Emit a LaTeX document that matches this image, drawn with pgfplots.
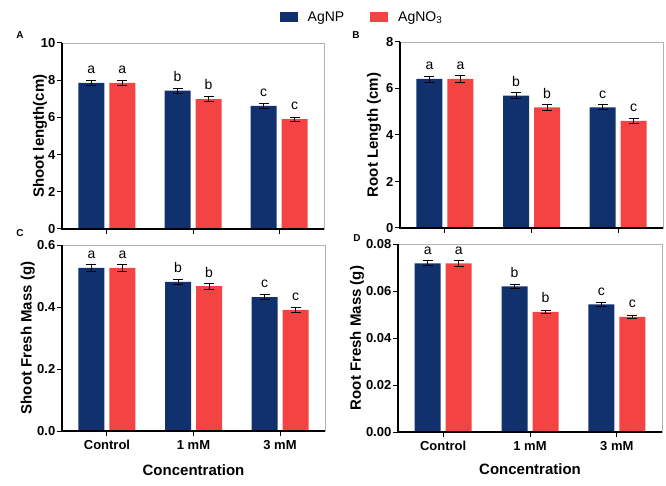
\documentclass[border=0pt]{standalone}
\usepackage{pgfplots}
\pgfplotsset{compat=1.18}
\usepackage{pgfplotstable}
\usepackage{fontspec}
\setmainfont{Liberation Sans}
\definecolor{npblue}{RGB}{17,48,110}
\definecolor{nored}{RGB}{244,67,67}

% x y err lbl
\pgfplotstableread{
x y err lbl
0 7.85 0.13 a
1 7.44 0.13 b
2 6.62 0.11 c
}\Anp
\pgfplotstableread{
x y err lbl
0 7.85 0.14 a
1 6.98 0.13 b
2 5.91 0.11 c
}\Ano
\pgfplotstableread{
x y err lbl
0 6.41 0.13 a
1 5.69 0.13 b
2 5.19 0.11 c
}\Bnp
\pgfplotstableread{
x y err lbl
0 6.41 0.14 a
1 5.19 0.12 b
2 4.61 0.10 c
}\Bno
\pgfplotstableread{
x y err lbl
0 0.526 0.010 a
1 0.481 0.009 b
2 0.432 0.008 c
}\Cnp
\pgfplotstableread{
x y err lbl
0 0.526 0.010 a
1 0.467 0.009 b
2 0.391 0.007 c
}\Cno
\pgfplotstableread{
x y err lbl
0 0.0718 0.0011 a
1 0.0620 0.0009 b
2 0.0543 0.0008 c
}\Dnp
\pgfplotstableread{
x y err lbl
0 0.0718 0.0012 a
1 0.0511 0.0007 b
2 0.0490 0.0007 c
}\Dno

\pgfplotsset{
  panel/.style={
    scale only axis,
    ybar,
    bar width=26pt,
    xmin=-0.52, xmax=2.52,
    ymin=0,
    xtick={0,1,2},
    xtick pos=left, ytick pos=left,
    tick align=outside,
    major tick length=5pt,
    major tick style={black, line width=1pt},
    axis line style={draw=gray!60, line width=0.6pt},
    clip=false,
    /pgf/number format/assume math mode=true,
    ticklabel style={font=\bfseries\fontsize{13}{15}\selectfont},
    yticklabel style={inner sep=1.5pt},
    xticklabel style={yshift=-1pt},
    label style={font=\bfseries\fontsize{15}{17}\selectfont},
    nodes near coords,
    point meta=explicit symbolic,
    nodes near coords style={anchor=south, yshift=5.5pt, font=\fontsize{14}{16}\selectfont, text=black},
    scaled y ticks=false,
  },
  errs/.style={
    error bars/y dir=both, error bars/y explicit,
    error bars/error bar style={black, line width=0.8pt},
    error bars/error mark options={rotate=90, black, mark size=5pt, line width=0.8pt}},
  np/.style={fill=npblue, draw=none, bar shift=-15.5pt, errs},
  no/.style={fill=nored, draw=none, bar shift=15.5pt, errs},
}
\newcommand{\blackaxes}{\draw[black, line width=1.3pt] (rel axis cs:0,1) -- (rel axis cs:0,0) -- (rel axis cs:1,0);}

\begin{document}
\begin{tikzpicture}
\path[use as bounding box] (0,0) rectangle (666pt,485pt);

% Panel A
\begin{axis}[panel, at={(62pt,256pt)}, anchor=south west, width=262pt, height=186pt,
  ymax=10, ytick={0,2,...,10}, xticklabels={},
  ylabel={Shoot length(cm)},
  ylabel style={at={(axis description cs:-0.084,0.5)}, anchor=center},
  legend style={at={(axis description cs:1.145,1.14)}, anchor=center, draw=none, fill=none,
    legend columns=2, font=\fontsize{14}{16}\selectfont,
    /tikz/every even column/.append style={column sep=24pt}},
]
\addplot[np, legend image code/.code={\fill[npblue] (0pt,-5pt) rectangle (18pt,5pt); \path (26pt,0pt);}] table[x=x, y=y, y error=err, meta=lbl] {\Anp};
\addlegendentry{AgNP}
\addplot[no, legend image code/.code={\fill[nored] (0pt,-5pt) rectangle (18pt,5pt); \path (26pt,0pt);}] table[x=x, y=y, y error=err, meta=lbl] {\Ano};
\addlegendentry{AgNO\textsubscript{3}}
\blackaxes
\end{axis}

% Panel B
\begin{axis}[panel, at={(400pt,257pt)}, anchor=south west, width=263pt, height=186pt,
  ymax=8, ytick={0,2,...,8}, xticklabels={},
  ylabel={Root Length (cm)},
  ylabel style={at={(axis description cs:-0.099,0.5)}, anchor=center},
]
\addplot[np] table[x=x, y=y, y error=err, meta=lbl] {\Bnp};
\addplot[no] table[x=x, y=y, y error=err, meta=lbl] {\Bno};
\blackaxes
\end{axis}

% Panel C
\begin{axis}[panel, at={(62pt,54pt)}, anchor=south west, width=263pt, height=186pt,
  ymax=0.6, ytick={0,0.2,0.4,0.6},
  yticklabel style={/pgf/number format/.cd, fixed, fixed zerofill, precision=1},
  xticklabels={Control, 1 mM, 3 mM},
  ylabel={Shoot Fresh Mass (g)},
  ylabel style={at={(axis description cs:-0.13,0.5)}, anchor=center},
  xlabel={Concentration},
  xlabel style={at={(axis description cs:0.5,-0.21)}, anchor=center},
]
\addplot[np] table[x=x, y=y, y error=err, meta=lbl] {\Cnp};
\addplot[no] table[x=x, y=y, y error=err, meta=lbl] {\Cno};
\blackaxes
\end{axis}

% Panel D
\begin{axis}[panel, at={(398pt,53pt)}, anchor=south west, width=264pt, height=188pt,
  ymax=0.08, ytick={0,0.02,0.04,0.06,0.08},
  yticklabel style={/pgf/number format/.cd, fixed, fixed zerofill, precision=2},
  xticklabels={Control, 1 mM, 3 mM},
  ylabel={Root Fresh Mass (g)},
  ylabel style={at={(axis description cs:-0.155,0.5)}, anchor=center},
  xlabel={Concentration},
  xlabel style={at={(axis description cs:0.5,-0.20)}, anchor=center},
]
\addplot[np] table[x=x, y=y, y error=err, meta=lbl] {\Dnp};
\addplot[no] table[x=x, y=y, y error=err, meta=lbl] {\Dno};
\blackaxes
\end{axis}

\node[font=\bfseries\fontsize{10}{12}\selectfont] at (20pt,450pt) {A};
\node[font=\bfseries\fontsize{10}{12}\selectfont] at (356pt,450pt) {B};
\node[font=\bfseries\fontsize{10}{12}\selectfont] at (20pt,252pt) {C};
\node[font=\bfseries\fontsize{10}{12}\selectfont] at (357pt,247pt) {D};
\end{tikzpicture}
\end{document}
